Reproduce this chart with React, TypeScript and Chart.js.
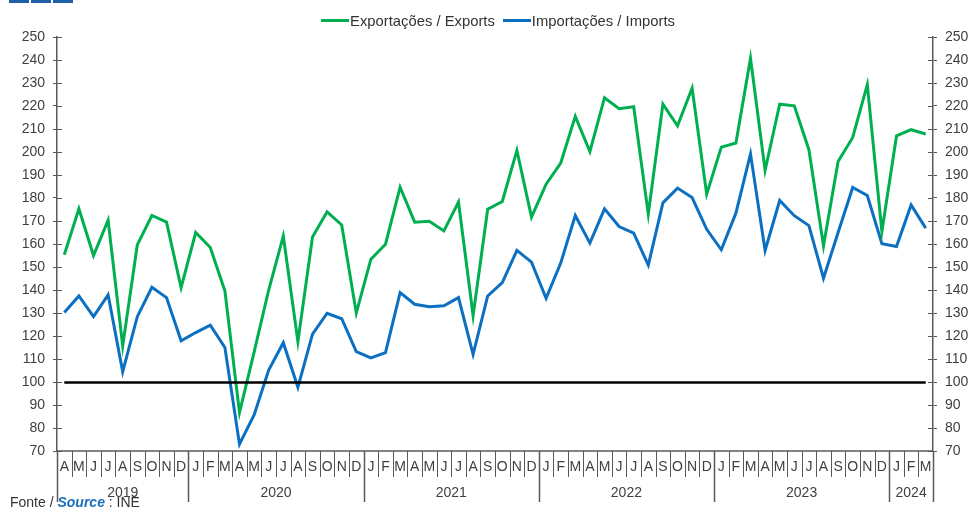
import React, { useEffect, useRef } from 'react';
import { Chart, registerables } from 'chart.js';

Chart.register(...registerables);

const exportsIndex = [
  155.3, 175.3, 155.0, 170.4, 115.7, 159.6, 172.4, 169.5, 141.0,
  165.0, 158.5, 139.6, 86.7, 113.0, 140.0, 163.5, 117.6, 163.0, 174.0, 168.3, 130.0,
  153.4, 159.9, 184.7, 169.5, 169.9, 165.7, 178.2, 128.9, 175.1, 178.5, 200.7, 171.7,
  186.0, 195.2, 215.5, 200.2, 223.6, 218.8, 219.7, 173.0, 220.8, 211.4, 227.7, 181.7,
  202.1, 203.9, 240.7, 192.0, 220.8, 220.1, 201.0, 159.2, 195.9, 206.3, 229.3, 165.4,
  207.0, 209.7, 207.8,
];

const importsIndex = [
  130.2, 137.4, 128.4, 137.9, 104.5, 128.4, 141.2, 136.7, 117.9,
  121.5, 124.7, 115.0, 73.0, 85.7, 105.2, 117.1, 97.7, 120.8, 129.9, 127.5, 113.2,
  110.5, 112.8, 138.9, 133.8, 132.7, 133.1, 136.7, 112.0, 137.4, 143.2, 157.2, 152.1,
  136.4, 151.7, 172.4, 160.4, 175.3, 167.6, 164.7, 150.8, 177.9, 184.3, 180.2, 166.4,
  157.5, 173.4, 199.2, 157.2, 178.9, 172.3, 168.0, 145.1, 165.0, 184.6, 181.1, 160.1,
  158.9, 177.0, 166.9,
];

const monthInitials = ['J', 'F', 'M', 'A', 'M', 'J', 'J', 'A', 'S', 'O', 'N', 'D'];
const firstMonthOffset = 3; // series starts in April 2019
const monthLabels = exportsIndex.map((_, i) => monthInitials[(firstMonthOffset + i) % 12]);

const yearLabels = ['2019', '2020', '2021', '2022', '2023', '2024'];
const monthsPerYear = [9, 12, 12, 12, 12, 3];

const baseLevel = 100;
const yTicks = { min: 70, max: 250, step: 10 };

const FONT = '"Liberation Sans", Arial, sans-serif';
const AXIS_COLOR = '#595959';
const TEXT_COLOR = '#404040';
const GREEN = '#00B050';
const BLUE = '#0B70C2';

const decorPlugin = {
  id: 'decor',
  afterDatasetsDraw(chart: any) {
    const { ctx, chartArea, scales } = chart;
    const x = scales.x;
    const y = scales.y;
    const n = monthLabels.length;
    const step = x.getPixelForValue(1) - x.getPixelForValue(0);
    const left = chartArea.left;
    const right = chartArea.right;
    const bottom = chartArea.bottom;
    ctx.save();

    // base line at 100
    const yb = Math.round(y.getPixelForValue(baseLevel)) + 0.5;
    ctx.strokeStyle = '#000';
    ctx.lineWidth = 2.5;
    ctx.beginPath();
    ctx.moveTo(x.getPixelForValue(0), yb);
    ctx.lineTo(x.getPixelForValue(n - 1), yb);
    ctx.stroke();

    // x axis line
    ctx.strokeStyle = AXIS_COLOR;
    ctx.lineWidth = 1.5;
    ctx.beginPath();
    ctx.moveTo(left, bottom);
    ctx.lineTo(right, bottom);
    ctx.stroke();

    // inner y ticks
    ctx.lineWidth = 1;
    for (let v = yTicks.min; v <= yTicks.max; v += yTicks.step) {
      const py = Math.round(y.getPixelForValue(v)) + 0.5;
      ctx.beginPath();
      ctx.moveTo(left, py);
      ctx.lineTo(left + 5, py);
      ctx.moveTo(right - 5, py);
      ctx.lineTo(right, py);
      ctx.stroke();
    }

    // month separators and labels
    ctx.font = `14px ${FONT}`;
    ctx.fillStyle = TEXT_COLOR;
    ctx.textAlign = 'center';
    ctx.textBaseline = 'middle';
    for (let i = 0; i <= n; i++) {
      const px = Math.round(x.getPixelForValue(i) - step / 2) + 0.5;
      ctx.beginPath();
      ctx.moveTo(px, bottom);
      ctx.lineTo(px, bottom + 26);
      ctx.stroke();
    }
    for (let i = 0; i < n; i++) {
      ctx.fillText(monthLabels[i], x.getPixelForValue(i), bottom + 16);
    }

    // year separators and labels
    let idx = 0;
    const bounds: number[] = [x.getPixelForValue(0) - step / 2];
    monthsPerYear.forEach((c) => {
      idx += c;
      bounds.push(x.getPixelForValue(idx - 1) + step / 2);
    });
    ctx.lineWidth = 1.5;
    bounds.forEach((b) => {
      const px = Math.round(b) + 0.5;
      ctx.beginPath();
      ctx.moveTo(px, bottom);
      ctx.lineTo(px, bottom + 51);
      ctx.stroke();
    });
    ctx.font = `14px ${FONT}`;
    yearLabels.forEach((lbl, k) => {
      ctx.fillText(lbl, (bounds[k] + bounds[k + 1]) / 2, bottom + 42);
    });

    ctx.restore();
  },
};

export default function App() {
  const canvasRef = useRef<HTMLCanvasElement | null>(null);

  useEffect(() => {
    if (!canvasRef.current) return;
    const yScaleCommon = (position: 'left' | 'right', width: number) => ({
      type: 'linear' as const,
      position,
      min: yTicks.min,
      max: yTicks.max,
      afterFit: (scale: any) => {
        scale.width = width;
      },
      ticks: {
        stepSize: yTicks.step,
        color: TEXT_COLOR,
        padding: 8,
        font: { family: FONT, size: 14 },
      },
      grid: {
        drawOnChartArea: false,
        tickLength: 4,
        color: AXIS_COLOR,
      },
      border: { color: AXIS_COLOR, width: 1.5 },
    });

    const chart = new Chart(canvasRef.current, {
      type: 'line',
      data: {
        labels: monthLabels,
        datasets: [
          {
            label: 'Exportações / Exports',
            data: exportsIndex,
            borderColor: GREEN,
            backgroundColor: GREEN,
            borderWidth: 3,
            pointRadius: 0,
            tension: 0,
            yAxisID: 'y',
          },
          {
            label: 'Importações / Imports',
            data: importsIndex,
            borderColor: BLUE,
            backgroundColor: BLUE,
            borderWidth: 3,
            pointRadius: 0,
            tension: 0,
            yAxisID: 'y',
          },
        ],
      },
      options: {
        responsive: false,
        animation: false,
        layout: { padding: { top: 37, bottom: 57, left: 0, right: 0 } },
        plugins: {
          legend: { display: false },
          tooltip: { enabled: false },
        },
        scales: {
          x: {
            type: 'category',
            display: false,
            offset: true,
          },
          y: yScaleCommon('left', 57),
          y1: yScaleCommon('right', 37),
        },
      },
      plugins: [decorPlugin],
    });
    return () => chart.destroy();
  }, []);

  const legendItem = (color: string, text: string) => (
    <span style={{ display: 'inline-flex', alignItems: 'center', marginRight: 8 }}>
      <span style={{ display: 'inline-block', width: 28, height: 3, background: color, marginRight: 1 }} />
      <span>{text}</span>
    </span>
  );

  return (
    <div style={{ position: 'absolute', left: 0, top: 0, width: 970, height: 508, overflow: 'hidden', background: '#fff' }}>
      <canvas ref={canvasRef} width={970} height={508} style={{ position: 'absolute', left: 0, top: 0, width: 970, height: 508 }} />
      <div style={{ position: 'absolute', left: 9, top: 0, display: 'flex', gap: 2 }}>
        <div style={{ width: 20, height: 3, background: '#1f5fa8' }} />
        <div style={{ width: 20, height: 3, background: '#1f5fa8' }} />
        <div style={{ width: 20, height: 3, background: '#1f5fa8' }} />
      </div>
      <div
        style={{
          position: 'absolute',
          left: 0,
          top: 9,
          width: 1004,
          textAlign: 'center',
          fontFamily: FONT,
          fontSize: 14.8,
          color: '#333',
          lineHeight: '16px',
          whiteSpace: 'nowrap',
        }}
      >
        {legendItem(GREEN, 'Exportações / Exports')}
        {legendItem(BLUE, 'Importações / Imports')}
      </div>
      <div
        style={{
          position: 'absolute',
          left: 10,
          top: 494,
          fontFamily: FONT,
          fontSize: 14,
          color: '#333',
          lineHeight: '16px',
          whiteSpace: 'nowrap',
        }}
      >
        Fonte / <span style={{ color: '#1a6fc0', fontWeight: 'bold', fontStyle: 'italic' }}>Source</span> : INE
      </div>
    </div>
  );
}
